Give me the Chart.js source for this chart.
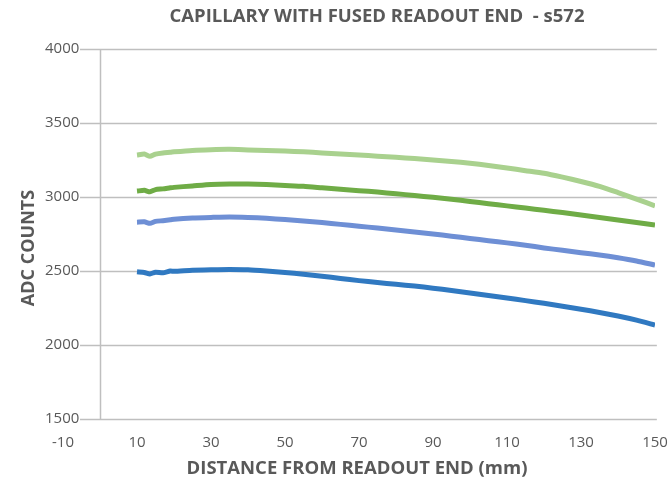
<!DOCTYPE html>
<html>
<head>
<meta charset="utf-8">
<script src="https://cdn.jsdelivr.net/npm/chart.js@4/dist/chart.umd.min.js"></script>
<style>
  html, body { margin: 0; padding: 0; background: #fff; }
  #wrap { width: 669px; height: 484px; position: relative; }
</style>
</head>
<body>
<div id="wrap"><canvas id="c"></canvas></div>
<script>
// positions along the capillary (mm)
const distance = [10, 12, 13.5, 15, 17, 19, 20, 25, 30, 35, 40, 45, 50, 55, 60, 65, 70, 75, 80, 85,
  90, 95, 100, 105, 110, 115, 120, 125, 130, 135, 140, 145, 150];

// four readouts, top to bottom
const seriesLightGreen = [3284, 3290, 3275, 3290, 3298, 3302, 3305, 3315, 3320, 3322, 3318, 3314, 3310, 3305, 3298, 3290,
  3284, 3276, 3268, 3260, 3250, 3240, 3228, 3213, 3196, 3178, 3160, 3134, 3105, 3072, 3030, 2986, 2940];
const seriesGreen = [3040, 3045, 3035, 3050, 3055, 3062, 3065, 3075, 3085, 3088, 3087, 3084, 3078, 3072, 3062, 3052,
  3043, 3033, 3022, 3010, 2998, 2985, 2970, 2955, 2940, 2925, 2910, 2895, 2878, 2862, 2845, 2828, 2810];
const seriesLavender = [2830, 2832, 2822, 2835, 2840, 2846, 2850, 2858, 2862, 2865, 2862, 2856, 2848, 2838, 2828, 2815,
  2803, 2790, 2777, 2764, 2750, 2735, 2720, 2705, 2690, 2674, 2656, 2640, 2624, 2608, 2590, 2568, 2540];
const seriesBlue = [2495, 2490, 2480, 2492, 2488, 2500, 2498, 2505, 2508, 2510, 2508, 2500, 2490, 2478, 2465, 2450,
  2435, 2422, 2410, 2398, 2384, 2368, 2352, 2335, 2318, 2300, 2282, 2262, 2242, 2220, 2196, 2168, 2135];

const xTicks = [-10, 10, 30, 50, 70, 90, 110, 130, 150];
const yTicks = [1500, 2000, 2500, 3000, 3500, 4000];

const TEXT = "#595959";
const GRID = "#BFBFBF";
const FONT = "'Open Sans', 'Liberation Sans', sans-serif";

function pts(ys) { return distance.map((x, i) => ({ x: x, y: ys[i] })); }

function line(ys, color) {
  return { data: pts(ys), borderColor: color, backgroundColor: color, borderWidth: 5,
    pointRadius: 0, tension: 0.2, fill: false };
}

// grid, axis and all text, drawn from the scales
const frame = {
  id: "frame",
  beforeDatasetsDraw(chart) {
    const { ctx, scales: { x, y } } = chart;
    ctx.save();
    ctx.strokeStyle = GRID;
    ctx.lineWidth = 1.5;
    const gx0 = x.getPixelForValue(-5.4), gx1 = x.getPixelForValue(150.5);
    yTicks.forEach((v) => {
      const py = Math.round(y.getPixelForValue(v)) + 0.5;
      ctx.beginPath(); ctx.moveTo(gx0, py); ctx.lineTo(gx1, py); ctx.stroke();
    });
    const ax = Math.round(x.getPixelForValue(0)) + 0.5;
    ctx.beginPath();
    ctx.moveTo(ax, y.getPixelForValue(4000)); ctx.lineTo(ax, y.getPixelForValue(1500));
    ctx.stroke();
    ctx.restore();
  },
  afterDraw(chart) {
    const { ctx, scales: { x, y } } = chart;
    ctx.save();
    ctx.fillStyle = TEXT;
    ctx.font = "15px " + FONT;
    ctx.textBaseline = "middle";
    ctx.textAlign = "right";
    yTicks.forEach((v) => ctx.fillText(String(v), x.getPixelForValue(-5.6), y.getPixelForValue(v)));
    ctx.textAlign = "center";
    xTicks.forEach((v) => ctx.fillText(String(v), x.getPixelForValue(v), 443));

    ctx.font = "bold 18.5px " + FONT;
    ctx.fillText("CAPILLARY WITH FUSED READOUT END  - s572", 377, 17);
    ctx.fillText("DISTANCE FROM READOUT END (mm)", 357, 469);
    ctx.font = "bold 18px " + FONT;
    ctx.translate(29, 248);
    ctx.rotate(-Math.PI / 2);
    ctx.fillText("ADC COUNTS", 0, 0);
    ctx.restore();
  },
};

new Chart(document.getElementById("c"), {
  type: "line",
  data: {
    datasets: [
      line(seriesLightGreen, "#A9D18E"),
      line(seriesGreen, "#6FAC46"),
      line(seriesLavender, "#6E8FD5"),
      line(seriesBlue, "#3079C1"),
    ],
  },
  options: {
    responsive: true,
    maintainAspectRatio: false,
    animation: false,
    layout: { padding: { left: 63, right: 14, top: 49, bottom: 65 } },
    plugins: { legend: { display: false }, tooltip: { enabled: false }, title: { display: false } },
    scales: {
      x: { type: "linear", min: -10, max: 150, display: false },
      y: { type: "linear", min: 1500, max: 4000, display: false },
    },
  },
  plugins: [frame],
});
</script>
</body>
</html>
